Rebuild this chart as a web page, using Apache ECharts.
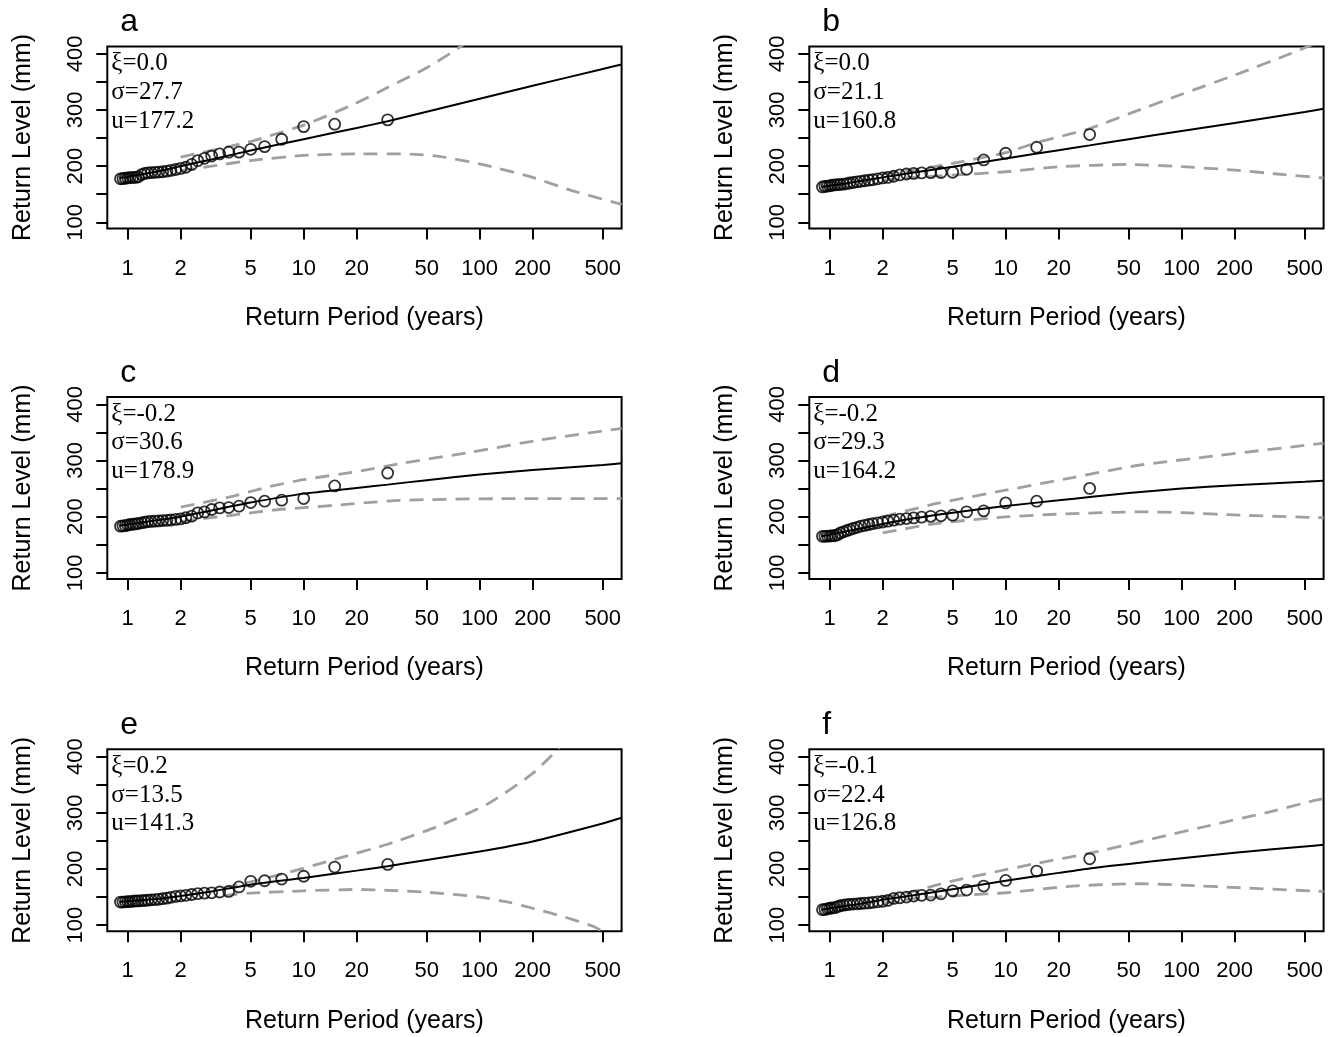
<!DOCTYPE html>
<html><head><meta charset="utf-8">
<script src="https://cdn.jsdelivr.net/npm/echarts@6/dist/echarts.min.js"></script>
<style>html,body{margin:0;padding:0;background:#fff}#c{width:1333px;height:1037px}</style>
</head><body><div id="c"></div>
<script>
// ---------- data ----------
const returnPeriods = [0.91,0.94,0.97,1.0,1.03,1.07,1.11,1.15,1.2,1.25,1.3,1.36,1.43,1.5,1.58,1.67,1.76,1.875,2.0,2.14,2.31,2.5,2.73,3.0,3.33,3.75,4.29,5.0,6.0,7.5,10,15,30];
const pointsA = [177.5,178,178.5,179,179.5,180,180,181,185,187,188,188.5,189,189.5,190,191,192.5,194,196,198,203,209.8,214,218,221.7,224.8,225,230,234.8,247.9,270.4,274.7,282.4];
const pointsB = [163,164,164.5,165,166,166.5,167,167.5,168,169,170,171,172,173,174,175,176,177.5,179,180,182,184.3,186,187,188,188.5,188.7,189,194.5,211,223,233.6,256.2];
const pointsC = [183,183.5,184,185,186,186.5,187,188,189,190,191,191.5,192,192.5,193,193.5,194,195,196,198,200.8,206.7,208.5,212.7,215.6,216.2,218.6,225.1,227.5,229.3,232.2,254.7,277.5];
const pointsD = [165,165,165.5,165.5,166,166,168,171,173,175,177,179,181,183,184.5,186,187.5,189,190.5,192,193.7,195.5,196.6,197.8,199,200.5,201.5,202.6,208.5,210.3,224.5,227.5,250.3];
const pointsE = [141,141,141.5,142,142,142.5,143,143,143.5,144,144.5,145,145.5,146,147,148,149.5,151,152,153,154.5,156,157,157.5,159,160,168,178,179,182,187,203.4,208];
const pointsF = [127.5,128,129,130,130.5,131,133,134.5,135.5,136.5,137,137.5,138,138.5,139,139.5,140.5,141.5,142.5,144,147.5,148.7,150,151.7,153,153.5,155.8,161,162.4,169.5,179.6,196.2,218];

const curveT = [0.9,1,1.5,2,3,5,10,20,30,50,100,200,500,640];
const levelA = [179,181,191,200,212,228,248,268,280,297,320,343,373,381];
const levelB = [163,165,173.5,180,188.5,199,213.5,228.5,237,248,262.5,277,296.5,302];
const levelC = [184,186,194,200,211,225,241,251,257,265,275,283,292,295];
const levelD = [165,168,179,187,197,207,219,229,235,242,250,256,262,264];
const levelE = [141.5,142.5,147,152,160,172,184,197,205,216,231,249,281,291];
const levelF = [127.5,130,138,145,153,164,179,193,201,209,219,229,240,243];

const upperTA = [2,3,5,6.2,10,18,30,50,78,100];
const upperA  = [216,228,244,252.6,273,306,340,375,413,440];
const lowerTA = [2,3,5,10,20,40,60,100,200,330,640];
const lowerA  = [192,200,210,219,222,221.5,217,204,180,157,132];

const upperTB = [2,3,5,10,15,20,30,50,100,200,420,640];
const upperB  = [186,193,205,224,242,252,267,293,328,362,401,425];
const lowerTB = [2,3,5,10,20,50,100,200,350,640];
const lowerB  = [175,180,184,190,199,203,199,193,186,179];

const upperTC = [2,3.8,6.3,10,20,36,90,215,570,640];
const upperC  = [217,235,253,266,280,295,315,336,355,357];
const lowerTC = [2,2.6,3.8,6.6,10,14.7,35,140,640];
const lowerC  = [191,196,202,211.5,216,220,229,232,232];

const upperTD = [2,4,10,24,57,138,570,640];
const upperD  = [199.6,223,247,269.6,291.5,306.3,329,330.5];
const lowerTD = [2,4,10,24,57,100,215,570,640];
const lowerD  = [171,187.7,199.6,205.5,208.5,207,202.6,198.4,198];

const upperTE = [3.5,5,8,15,30,57,110,200,280,320];
const upperE  = [166,177,193,217,244,275,315,370,415,440];
const lowerTE = [3.5,5,10,20,30,50,100,150,200,300,440,520];
const lowerE  = [153,157,161,163.5,162,158.5,150,140,130,115,98,86];

const upperTF = [2,3,4.6,8.2,15,30,57,138,300,570,640];
const upperF  = [149,160,176,193,210,228,248,276,300,322,325];
const lowerTF = [2,3,6,10,24,57,100,215,570,640];
const lowerF  = [139,147,153.5,157.6,169.5,173.7,171.3,166.5,160.6,160];

const xTicks = [1,2,5,10,20,50,100,200,500];
const yTicks = [100,150,200,250,300,350,400];
const yLabels = [100,200,300,400];
const panelLetters = ['a','b','c','d','e','f'];
const xiText = ['ξ=0.0','ξ=0.0','ξ=-0.2','ξ=-0.2','ξ=0.2','ξ=-0.1'];
const sigmaText = ['σ=27.7','σ=21.1','σ=30.6','σ=29.3','σ=13.5','σ=22.4'];
const uText = ['u=177.2','u=160.8','u=178.9','u=164.2','u=141.3','u=126.8'];
const xTitle = 'Return Period (years)';
const yTitle = 'Return Level (mm)';

// ---------- layout ----------
const gridLefts = [107.3, 809.3];
const gridTops = [46.5, 397, 749.3];
const gridW = 514.3, gridH = 182;
const SANS = '"Liberation Sans", Arial, sans-serif';
const SERIF = '"Liberation Serif", "Times New Roman", serif';

const zip = (xs, ys) => xs.map((x, i) => [x, ys[i]]);
const panels = [
  {pts: pointsA, lvl: levelA, upT: upperTA, up: upperA, loT: lowerTA, lo: lowerA},
  {pts: pointsB, lvl: levelB, upT: upperTB, up: upperB, loT: lowerTB, lo: lowerB},
  {pts: pointsC, lvl: levelC, upT: upperTC, up: upperC, loT: lowerTC, lo: lowerC},
  {pts: pointsD, lvl: levelD, upT: upperTD, up: upperD, loT: lowerTD, lo: lowerD},
  {pts: pointsE, lvl: levelE, upT: upperTE, up: upperE, loT: lowerTE, lo: lowerE},
  {pts: pointsF, lvl: levelF, upT: upperTF, up: upperF, loT: lowerTF, lo: lowerF}
];

const grid = [], xAxis = [], yAxis = [], series = [], graphic = [];
panels.forEach((p, i) => {
  const col = i % 2, row = Math.floor(i / 2);
  const left = gridLefts[col], top = gridTops[row];
  grid.push({left: left, top: top, width: gridW, height: gridH, show: true,
    borderColor: '#000', borderWidth: 2, backgroundColor: 'transparent',
    containLabel: false, outerBoundsMode: 'none'});
  xAxis.push({type: 'log', logBase: 10, gridIndex: i, min: 0.766, max: 640,
    name: xTitle, nameLocation: 'middle', nameGap: 77,
    nameTextStyle: {fontSize: 25, fontFamily: SANS, color: '#000'},
    axisLine: {show: false},
    axisTick: {show: true, length: 11, customValues: xTicks, lineStyle: {color: '#000', width: 2}},
    minorTick: {show: false},
    axisLabel: {show: true, customValues: xTicks, margin: 29, fontSize: 22, fontFamily: SANS, color: '#000',
      formatter: v => String(v)},
    splitLine: {show: false}});
  yAxis.push({type: 'value', gridIndex: i, min: 89, max: 413,
    name: yTitle, nameLocation: 'middle', nameGap: 72,
    nameTextStyle: {fontSize: 25, fontFamily: SANS, color: '#000'},
    axisLine: {show: false},
    axisTick: {show: true, length: 11, customValues: yTicks, lineStyle: {color: '#000', width: 2}},
    axisLabel: {show: true, customValues: yLabels, rotate: 90, margin: 20, fontSize: 22, fontFamily: SANS, color: '#000'},
    splitLine: {show: false}});

  const dashStyle = {color: '#a0a0a0', width: 2.8, type: [14, 9]};
  series.push({type: 'line', xAxisIndex: i, yAxisIndex: i, data: zip(p.upT, p.up), showSymbol: false,
    smooth: 0.2, lineStyle: dashStyle, clip: true, silent: true, z: 2});
  series.push({type: 'line', xAxisIndex: i, yAxisIndex: i, data: zip(p.loT, p.lo), showSymbol: false,
    smooth: 0.2, lineStyle: dashStyle, clip: true, silent: true, z: 2});
  series.push({type: 'line', xAxisIndex: i, yAxisIndex: i, data: zip(curveT, p.lvl), showSymbol: false,
    smooth: 0.2, lineStyle: {color: '#000', width: 2}, clip: true, silent: true, z: 3});
  series.push({type: 'scatter', xAxisIndex: i, yAxisIndex: i, data: zip(returnPeriods, p.pts),
    symbol: 'circle', symbolSize: 11,
    itemStyle: {color: 'rgba(0,0,0,0)', borderColor: '#000', borderWidth: 1.8}, silent: true, z: 4});

  graphic.push({type: 'text', x: left + 13, y: top - 24, silent: true,
    style: {text: panelLetters[i], fontSize: 32, fontFamily: SANS, fill: '#000',
      align: 'left', verticalAlign: 'middle', textAlign: 'left', textVerticalAlign: 'middle'}});
  [xiText[i], sigmaText[i], uText[i]].forEach((t, k) => {
    graphic.push({type: 'text', x: left + 4, y: top + 17 + k * 28.8, silent: true,
      style: {text: t, fontSize: 25, fontFamily: SERIF, fill: '#000',
        align: 'left', verticalAlign: 'middle', textAlign: 'left', textVerticalAlign: 'middle'}});
  });
});

const chart = echarts.init(document.getElementById('c'), null, {renderer: 'canvas'});
chart.setOption({animation: false, backgroundColor: '#fff', grid, xAxis, yAxis, series, graphic});
</script></body></html>
